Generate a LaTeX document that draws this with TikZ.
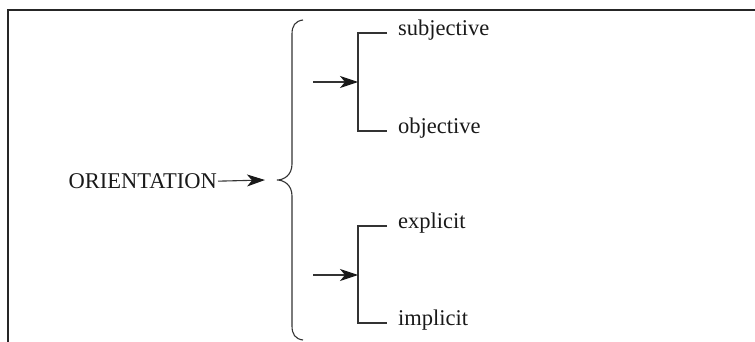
\documentclass[tikz,border=0pt]{standalone}
\usepackage{fontspec}
\setmainfont{Liberation Serif}
\usetikzlibrary{arrows.meta}
\begin{document}
\begin{tikzpicture}[x=1pt,y=-1pt,
  lbl/.style={inner sep=0pt,font=\fontsize{22.5}{27}\selectfont,text=black!90},
  ln/.style={line width=1.1pt,draw=black!80},
  arr/.style={ln,-{Stealth[length=18pt,width=12pt,inset=5pt,color=black!90]}},
  frame/.style={line width=1.5pt,draw=black!85}]
\useasboundingbox (0,0) rectangle (755,342);
\draw[frame] (8,342) -- (8,10) -- (755,10);
% labels
\node[lbl,anchor=base east] (orient) at (217,188.5) {ORIENTATION};
\node[lbl,anchor=mid west] (subj) at (398,33) {subjective};
\node[lbl,anchor=mid west] (obj) at (398,131) {objective};
\node[lbl,anchor=mid west] (expl) at (398,226) {explicit};
\node[lbl,anchor=mid west] (impl) at (398,323) {implicit};
% brace
\coordinate (bt) at (277,180);
\coordinate (a0) at (265,180);
\draw[ln] (303,20) .. controls (295,21) and (292,26) .. (292,34)
  -- (292,164) .. controls (292,175) and (284,180) .. (bt)
  .. controls (284,180) and (292,185) .. (292,196)
  -- (292,326) .. controls (292,334) and (295,339) .. (303,340);
\draw[arr] ([xshift=1pt]orient.east) -- (a0);
% brackets
\draw[ln] ([xshift=-11pt]subj.mid west) -- ++(-29,0) coordinate (k1)
  |- ([xshift=-11pt]obj.mid west);
\draw[ln] ([xshift=-11pt]expl.mid west) -- ++(-29,0) coordinate (k2)
  |- ([xshift=-11pt]impl.mid west);
\coordinate (m1) at (358,82);
\coordinate (m2) at (358,275);
\coordinate (f1) at (313,82);
\coordinate (f2) at (313,275);
\draw[arr] (f1) -- (m1);
\draw[arr] (f2) -- (m2);
\end{tikzpicture}
\end{document}
